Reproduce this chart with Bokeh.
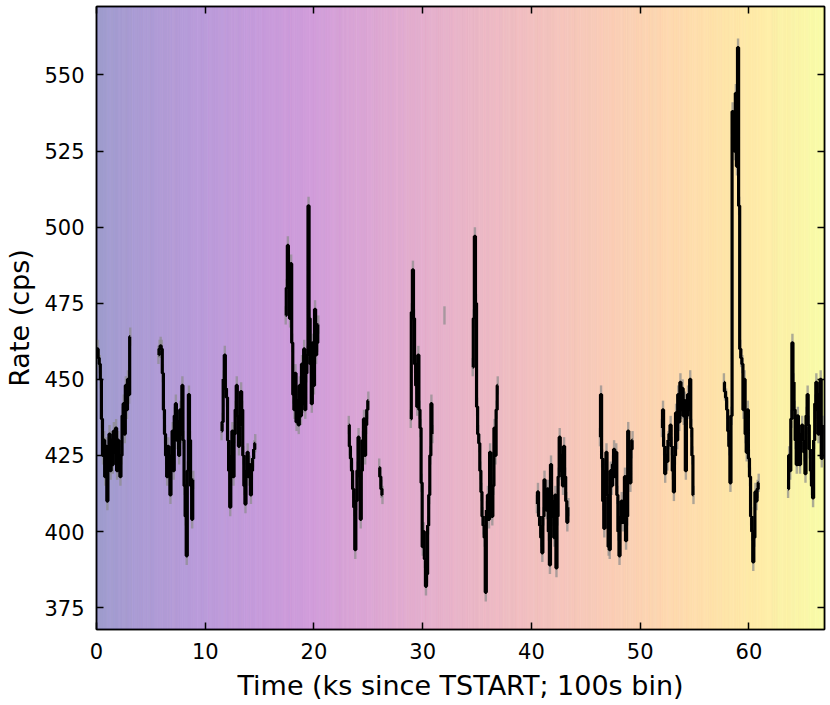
import numpy as np
from bokeh.plotting import figure
from bokeh.models import Range1d, FixedTicker, LinearAxis, ColumnDataSource
from bokeh.palettes import Plasma256
from bokeh.embed import file_html
from bokeh.resources import INLINE

# ---------------- data ----------------
BIN_KS = 0.1          # 100 s bins, in ks
N_BINS = 670          # total span of the observation in bins
rate_err = 3.0        # 1-sigma error of each bin (cps)

seg1_start = 0.0
seg1_rate = [459, 460, 457, 455, 450, 437, 425, 430, 418, 428, 410, 425, 432, 420, 430, 422,
             433, 426, 434, 420, 430, 424, 418, 425, 438, 442, 432, 448, 440, 450, 445, 464]
seg2_start = 5.7
seg2_rate = [458, 460, 461, 460, 452, 440, 432, 425, 418, 428, 420, 412, 425, 433, 420, 438,
             442, 430, 436, 425, 440, 432, 448, 430, 415, 405, 392, 420, 445, 430, 415, 404, 417]
seg3_start = 11.5
seg3_rate = [433, 436, 450, 458, 447, 444, 430, 420, 408, 425, 433, 418, 432, 440, 448, 438,
             428, 435, 446, 440, 425, 415, 409, 420, 426, 418, 422, 412, 420, 424, 427, 429]
seg4_start = 17.4
seg4_rate = [471, 480, 494, 485, 470, 488, 462, 445, 440, 452, 436, 443, 435, 448, 438, 455,
             442, 460, 440, 452, 458, 507, 470, 455, 442, 462, 448, 473, 458, 462, 468]
seg5_start = 23.2
seg5_rate = [435, 428, 424, 420, 414, 408, 394, 410, 420, 431, 418, 404, 420, 430, 437, 425,
             435, 440, 443]
seg6_start = 26.0
seg6_rate = [421, 418, 414, 412]
seg7_start = 28.9
seg7_rate = [437, 472, 486, 470, 455, 448, 441, 458, 440, 434, 416, 395, 400, 391, 382, 386,
             402, 412, 425, 442, 432]
seg8_start = 32.0
seg8_rate = [471]
seg9_start = 34.6
seg9_rate = [454, 470, 497, 475, 441, 432, 429, 420, 413, 405, 402, 398, 380, 407, 412, 404,
             426, 412, 405, 415, 434, 425, 440, 448]
seg10_start = 40.5
seg10_rate = [409, 413, 405, 402, 398, 393, 405, 417, 410, 407, 414, 400, 389, 422, 410, 405,
              398, 412, 388, 405, 418, 431, 420, 425, 415, 428, 418, 410, 403, 408]
seg11_start = 46.3
seg11_rate = [431, 445, 424, 410, 401, 420, 426, 412, 395, 394, 420, 415, 422, 427, 418, 426,
              412, 400, 392, 405, 410, 403, 409, 418, 397, 405, 433, 425, 416, 427, 430]
seg12_start = 52.0
seg12_rate = [434, 440, 428, 419, 425, 423, 430, 432, 435, 428, 420, 413, 425, 439, 430, 445,
              436, 449, 440, 447, 438, 443, 420, 438, 445, 440, 450, 434, 425, 412]
seg13_start = 57.7
seg13_rate = [449, 446, 444, 440, 433, 428, 416, 438, 538, 530, 525, 544, 520, 559, 507, 460,
              457, 455, 440, 450, 432, 426, 440, 424, 418, 405, 400, 390, 398, 413, 410, 414, 416]
seg14_start = 63.6
seg14_rate = [414, 425, 420, 437, 462, 449, 440, 430, 422, 438, 430, 422, 432, 435, 430, 426,
              419, 438, 445, 435, 427, 420, 415, 411, 430, 442, 449, 440, 432, 445, 450, 424, 435]

segments = [
    (seg1_start, seg1_rate), (seg2_start, seg2_rate), (seg3_start, seg3_rate),
    (seg4_start, seg4_rate), (seg5_start, seg5_rate), (seg6_start, seg6_rate),
    (seg7_start, seg7_rate), (seg8_start, seg8_rate), (seg9_start, seg9_rate),
    (seg10_start, seg10_rate), (seg11_start, seg11_rate), (seg12_start, seg12_rate),
    (seg13_start, seg13_rate), (seg14_start, seg14_rate),
]

x_ticks = [0, 10, 20, 30, 40, 50, 60]
y_ticks = [375, 400, 425, 450, 475, 500, 525, 550]
x_label = "Time (ks since TSTART; 100s bin)"
y_label = "Rate (cps)"

# ---------------- figure ----------------
FONT = "DejaVu Sans"
p = figure(width=830, height=705,
           x_range=Range1d(0, 66.95), y_range=Range1d(367.8, 572.5),
           output_backend="svg", toolbar_location=None,
           min_border_left=96, min_border_right=6, min_border_top=6, min_border_bottom=76)
p.grid.visible = False
p.background_fill_color = "white"
p.border_fill_color = "white"
p.outline_line_color = "black"
p.outline_line_width = 1.5

# background colour stripes, one per time bin
centers = (np.arange(N_BINS) + 0.5) * BIN_KS
cols = [Plasma256[int(round(i / (N_BINS - 1) * 255))] for i in range(N_BINS)]
bg = ColumnDataSource(dict(x=centers, c=cols))
p.vbar(x="x", width=BIN_KS, bottom=300, top=700, source=bg,
       fill_color="c", fill_alpha=0.28, line_color="c", line_alpha=0.2, line_width=0.5)

# error bars then step curve per segment
for start, rates in segments:
    r = np.array(rates, dtype=float)
    t = start + np.arange(len(r)) * BIN_KS
    src = ColumnDataSource(dict(t=t, lo=r - rate_err, hi=r + rate_err))
    p.segment(x0="t", y0="lo", x1="t", y1="hi", source=src,
              line_color="#8c8c8c", line_alpha=0.7, line_width=2.4)
for start, rates in segments:
    r = np.array(rates, dtype=float)
    t = start + np.arange(len(r)) * BIN_KS
    if len(r) > 1:
        p.step(t, r, mode="center", line_color="black", line_width=3.2)

# axes
for ax in [p.xaxis[0], p.yaxis[0]]:
    ax.major_tick_in = 7
    ax.major_tick_out = 0
    ax.minor_tick_in = 0
    ax.minor_tick_out = 0
    ax.axis_line_color = "black"
    ax.axis_line_width = 1.5
    ax.major_tick_line_width = 1.5
    ax.major_label_text_font = FONT
    ax.major_label_text_font_size = "21px"
    ax.major_label_text_color = "black"
    ax.axis_label_text_font = FONT
    ax.axis_label_text_font_size = "27px"
    ax.axis_label_text_font_style = "normal"
    ax.axis_label_text_color = "black"

p.xaxis[0].ticker = FixedTicker(ticks=x_ticks)
p.yaxis[0].ticker = FixedTicker(ticks=y_ticks)
p.xaxis[0].axis_label = x_label
p.yaxis[0].axis_label = y_label
p.xaxis[0].major_label_standoff = 13
p.yaxis[0].major_label_standoff = 12
p.xaxis[0].axis_label_standoff = 8
p.yaxis[0].axis_label_standoff = 6

top_ax = LinearAxis(ticker=FixedTicker(ticks=x_ticks),
                    major_label_overrides={t: "" for t in x_ticks})
right_ax = LinearAxis(ticker=FixedTicker(ticks=y_ticks),
                      major_label_overrides={t: "" for t in y_ticks})
for ax in [top_ax, right_ax]:
    ax.major_tick_in = 7
    ax.major_tick_out = 0
    ax.minor_tick_in = 0
    ax.minor_tick_out = 0
    ax.major_tick_line_width = 1.5
    ax.axis_line_width = 1.5
    ax.major_label_standoff = 0
    ax.major_label_text_font_size = "1px"
p.add_layout(top_ax, "above")
p.add_layout(right_ax, "right")

open("out.html", "w").write(file_html(p, INLINE))
